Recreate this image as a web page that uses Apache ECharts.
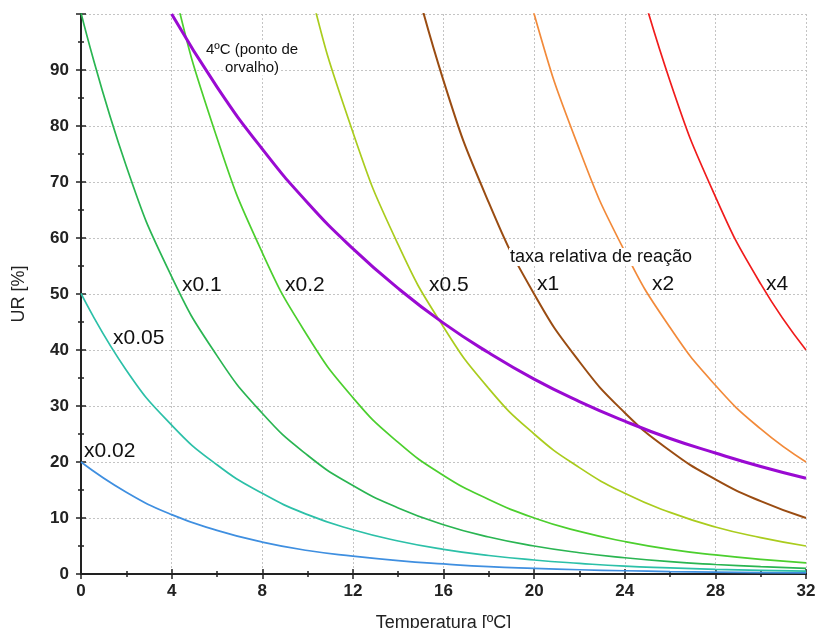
<!DOCTYPE html>
<html><head><meta charset="utf-8">
<script src="https://cdn.jsdelivr.net/npm/echarts@6/dist/echarts.min.js"></script>
<style>html,body{margin:0;padding:0;background:#fff}#c{width:818px;height:628px}</style>
</head><body><div id="c"></div>
<script>
var temps = [0, 2, 4, 6, 8, 10, 12, 14, 16, 18, 20, 22, 24, 26, 28, 30, 32];
var xTicks = [0, 4, 8, 12, 16, 20, 24, 28, 32];
var yTicks = [0, 10, 20, 30, 40, 50, 60, 70, 80, 90];
var rateX002 = [20.0, 14.6, 10.6, 7.8, 5.7, 4.2, 3.2, 2.4, 1.8, 1.3, 1.0, 0.76, 0.58, 0.44, 0.34, 0.26, 0.2];
var rateX005 = [50.1, 36.4, 26.6, 19.5, 14.4, 10.6, 7.9, 5.9, 4.4, 3.3, 2.5, 1.9, 1.4, 1.1, 0.84, 0.65, 0.5];
var rateX01 = [100.2, 72.8, 53.1, 39.0, 28.7, 21.2, 15.8, 11.8, 8.8, 6.6, 5.0, 3.8, 2.9, 2.2, 1.7, 1.3, 1.0];
var rateX02 = [null, 145.6, 106.3, 77.9, 57.4, 42.5, 31.5, 23.5, 17.6, 13.3, 10.0, 7.6, 5.8, 4.4, 3.4, 2.6, 2.0];
var rateX05 = [null, null, null, null, 143.5, 106.2, 78.9, 58.8, 44.1, 33.1, 25.0, 19.0, 14.4, 11.0, 8.4, 6.5, 5.0];
var rateX1 = [null, null, null, null, null, null, null, 117.6, 88.1, 66.3, 50.0, 37.9, 28.8, 22.0, 16.9, 13.0, 10.0];
var rateX2 = [null, null, null, null, null, null, null, null, null, 132.5, 100.0, 75.8, 57.6, 44.0, 33.7, 25.9, 20.0];
var rateX4 = [null, null, null, null, null, null, null, null, null, null, null, null, 115.3, 88.0, 67.4, 51.8, 40.0];
var dewPoint4 = [null, null, 100, 87.0, 75.9, 66.3, 58.1, 51.0, 44.8, 39.5, 34.8, 30.8, 27.3, 24.2, 21.6, 19.2, 17.1];

var curveNames = ['x0.02', 'x0.05', 'x0.1', 'x0.2', 'x0.5', 'x1', 'x2', 'x4', '4ºC (ponto de orvalho)'];
var curveData = [rateX002, rateX005, rateX01, rateX02, rateX05, rateX1, rateX2, rateX4, dewPoint4];
var curveColors = ['#3f8fe0', '#2cc0a8', '#2ab552', '#4ccf2e', '#aacc1e', '#9a4c12', '#f28a3a', '#f01c1c', '#9a0ad2'];
var curveWidths = [1.7, 1.7, 1.7, 1.7, 1.7, 2, 1.7, 1.7, 3];

function zip(vals) {
  var out = [];
  for (var i = 0; i < temps.length; i++) if (vals[i] !== null) out.push([temps[i], vals[i]]);
  return out;
}

var series = curveData.map(function (d, i) {
  return {
    name: curveNames[i], type: 'line', data: zip(d), smooth: 0.5,
    showSymbol: false, clip: true, z: i === 8 ? 5 : 3,
    lineStyle: { color: curveColors[i], width: curveWidths[i] }
  };
});

var FONT = 'Liberation Sans, Arial, sans-serif';
var lbl = function (text, x, y, size, bg, align) {
  return {
    type: 'text', x: x, y: y, z: 100,
    style: { text: text, fontSize: size, fontFamily: FONT, fill: '#111', textVerticalAlign: 'middle',
      textAlign: align || 'left', backgroundColor: bg ? '#fff' : null, padding: bg ? [0, 1] : 0 }
  };
};

var tickFont = { fontSize: 17, fontWeight: 'bold', color: '#222', fontFamily: FONT };
var chart = echarts.init(document.getElementById('c'), null, { renderer: 'canvas' });
chart.setOption({
  animation: false,
  backgroundColor: '#fff',
  grid: { left: 81, right: 12, top: 14, bottom: 54, containLabel: false, outerBoundsMode: 'none' },
  xAxis: [{
    type: 'value', min: 0, max: 32, interval: 4,
    name: 'Temperatura [ºC]', nameLocation: 'middle', nameGap: 40,
    nameTextStyle: { fontSize: 18, color: '#222', fontFamily: FONT },
    axisLine: { lineStyle: { color: '#222', width: 2 } },
    axisTick: { inside: true, length: 5, lineStyle: { color: '#222', width: 1.5 } },
    minorTick: { show: true, splitNumber: 2, length: 3, lineStyle: { color: '#222', width: 1.5 } },
    axisLabel: { margin: 9, formatter: function (v) { return xTicks.indexOf(v) >= 0 ? String(v) : ''; }, textStyle: tickFont },
    splitLine: { show: true, lineStyle: { color: '#c4c4c4', type: [2, 2], width: 1 } }
  }, {
    type: 'value', min: 0, max: 32, interval: 4, position: 'top',
    axisLine: { show: true, lineStyle: { color: '#222', width: 2 } },
    axisTick: { inside: true, length: 5, lineStyle: { color: '#222', width: 1.5 } },
    minorTick: { show: true, splitNumber: 2, length: 3, lineStyle: { color: '#222', width: 1.5 } },
    axisLabel: { show: false }, splitLine: { show: false }
  }],
  yAxis: [{
    type: 'value', min: 0, max: 100, interval: 10,
    name: 'UR [%]', nameLocation: 'middle', nameGap: 53, nameRotate: 90,
    nameTextStyle: { fontSize: 18, color: '#222', fontFamily: FONT },
    axisLine: { show: true, lineStyle: { color: '#222', width: 2 } },
    axisTick: { inside: true, length: 5, lineStyle: { color: '#222', width: 1.5 } },
    minorTick: { show: true, splitNumber: 2, length: 3, lineStyle: { color: '#222', width: 1.5 } },
    axisLabel: { margin: 12, formatter: function (v) { return yTicks.indexOf(v) >= 0 ? String(v) : ''; }, textStyle: tickFont },
    splitLine: { show: true, lineStyle: { color: '#c4c4c4', type: [2, 2], width: 1 } }
  }, {
    type: 'value', min: 0, max: 100, interval: 10, position: 'right',
    axisLine: { show: true, lineStyle: { color: '#222', width: 2 } },
    axisTick: { inside: true, length: 5, lineStyle: { color: '#222', width: 1.5 } },
    minorTick: { show: true, splitNumber: 2, length: 3, lineStyle: { color: '#222', width: 1.5 } },
    axisLabel: { show: false }, splitLine: { show: false }
  }],
  series: series,
  graphic: [
    lbl('x0.02', 84, 451, 21, false),
    lbl('x0.05', 113, 338, 21, false),
    lbl('x0.1', 182, 285, 21, false),
    lbl('x0.2', 285, 285, 21, false),
    lbl('x0.5', 429, 285, 21, false),
    lbl('x1', 537, 284, 21, false),
    lbl('x2', 652, 284, 21, false),
    lbl('x4', 766, 284, 21, false),
    lbl('taxa relativa de reação', 509, 257, 18, true),
    lbl('4ºC (ponto de', 252, 50, 15, true, 'center'),
    lbl('orvalho)', 252, 68, 15, true, 'center')
  ]
});
</script></body></html>
